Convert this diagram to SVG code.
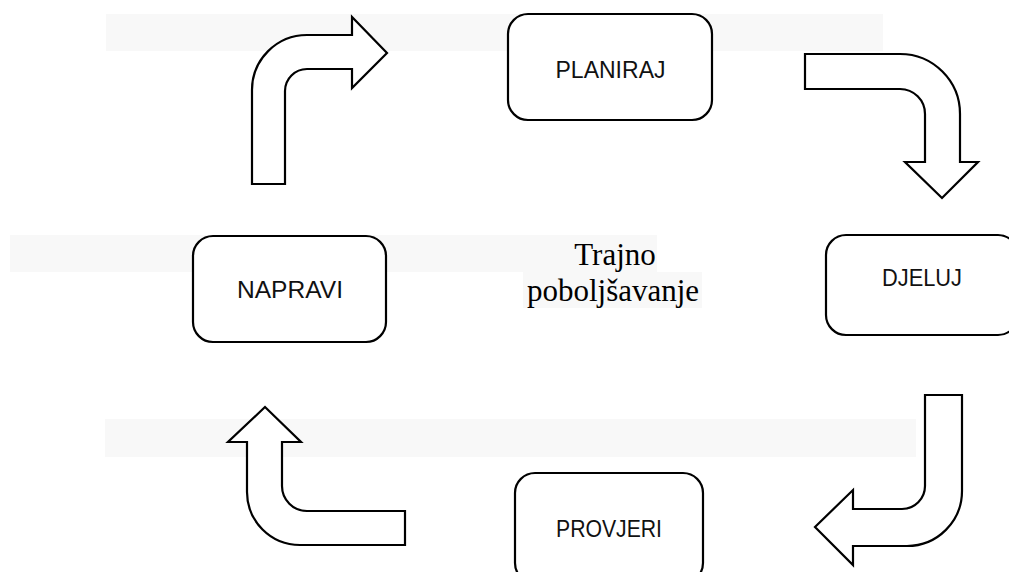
<svg xmlns="http://www.w3.org/2000/svg" width="1009" height="572" viewBox="0 0 1009 572">
<style>
.band{fill:#f8f8f8}
.box{fill:#ffffff;stroke:#000000;stroke-width:2.2}
.lbl{font-family:"Liberation Sans",Arial,sans-serif;font-size:23px;fill:#111111;text-anchor:middle}
.arrow{fill:#ffffff;stroke:#000000;stroke-width:2.2;stroke-linejoin:miter}
.center{font-family:"Liberation Serif","Times New Roman",serif;font-size:31px;fill:#000000;text-anchor:middle}
</style>
<rect width="1009" height="572" fill="#ffffff"/>
<g id="bands">
<rect class="band" x="106" y="14" width="777" height="37"/>
<rect class="band" x="10" y="235" width="647" height="37"/>
<rect class="band" x="523" y="272" width="179" height="36"/>
<rect class="band" x="105" y="419" width="811" height="38"/>
</g>
<g id="connectors">
<path class="arrow" d="M252,184 L252,90 A55,55 0 0 1 307,35 L352,35 L352,17 L387,53 L352,88 L352,69 L307,69 A22,22 0 0 0 285,91 L285,184 Z"/>
<path class="arrow" d="M805,54 L900,54 A60,60 0 0 1 960,114 L960,162 L978,162 L942,198 L905,162 L925,162 L925,114 A25,25 0 0 0 900,89 L805,89 Z"/>
<path class="arrow" d="M925,395 L962,395 L962,491 A55,55 0 0 1 907,546 L853,546 L853,565 L815,527 L853,490 L853,509 L902,509 A23,23 0 0 0 925,486 Z"/>
<path class="arrow" d="M405,511 L307,511 A25,25 0 0 1 282,486 L282,442 L301,442 L265,407 L228,442 L247,442 L247,492 A53,53 0 0 0 300,545 L405,545 Z"/>
</g>
<g id="planiraj">
<rect class="box" x="508" y="14" width="204" height="106" rx="20" ry="20"/>
<text class="lbl" x="610.5" y="78" textLength="110" lengthAdjust="spacingAndGlyphs">PLANIRAJ</text>
</g>
<g id="djeluj">
<rect class="box" x="826" y="235" width="192" height="100" rx="20" ry="20"/>
<text class="lbl" x="922" y="286" textLength="80" lengthAdjust="spacingAndGlyphs">DJELUJ</text>
</g>
<g id="provjeri">
<rect class="box" x="515" y="473" width="188" height="110" rx="20" ry="20"/>
<text class="lbl" x="609" y="537" textLength="106" lengthAdjust="spacingAndGlyphs">PROVJERI</text>
</g>
<g id="napravi">
<rect class="box" x="193" y="236" width="193" height="106" rx="20" ry="20"/>
<text class="lbl" x="290" y="298" textLength="106" lengthAdjust="spacingAndGlyphs">NAPRAVI</text>
</g>
<g id="center-label">
<text class="center" x="615" y="265">Trajno</text>
<text class="center" x="613" y="301">poboljšavanje</text>
</g>
</svg>
